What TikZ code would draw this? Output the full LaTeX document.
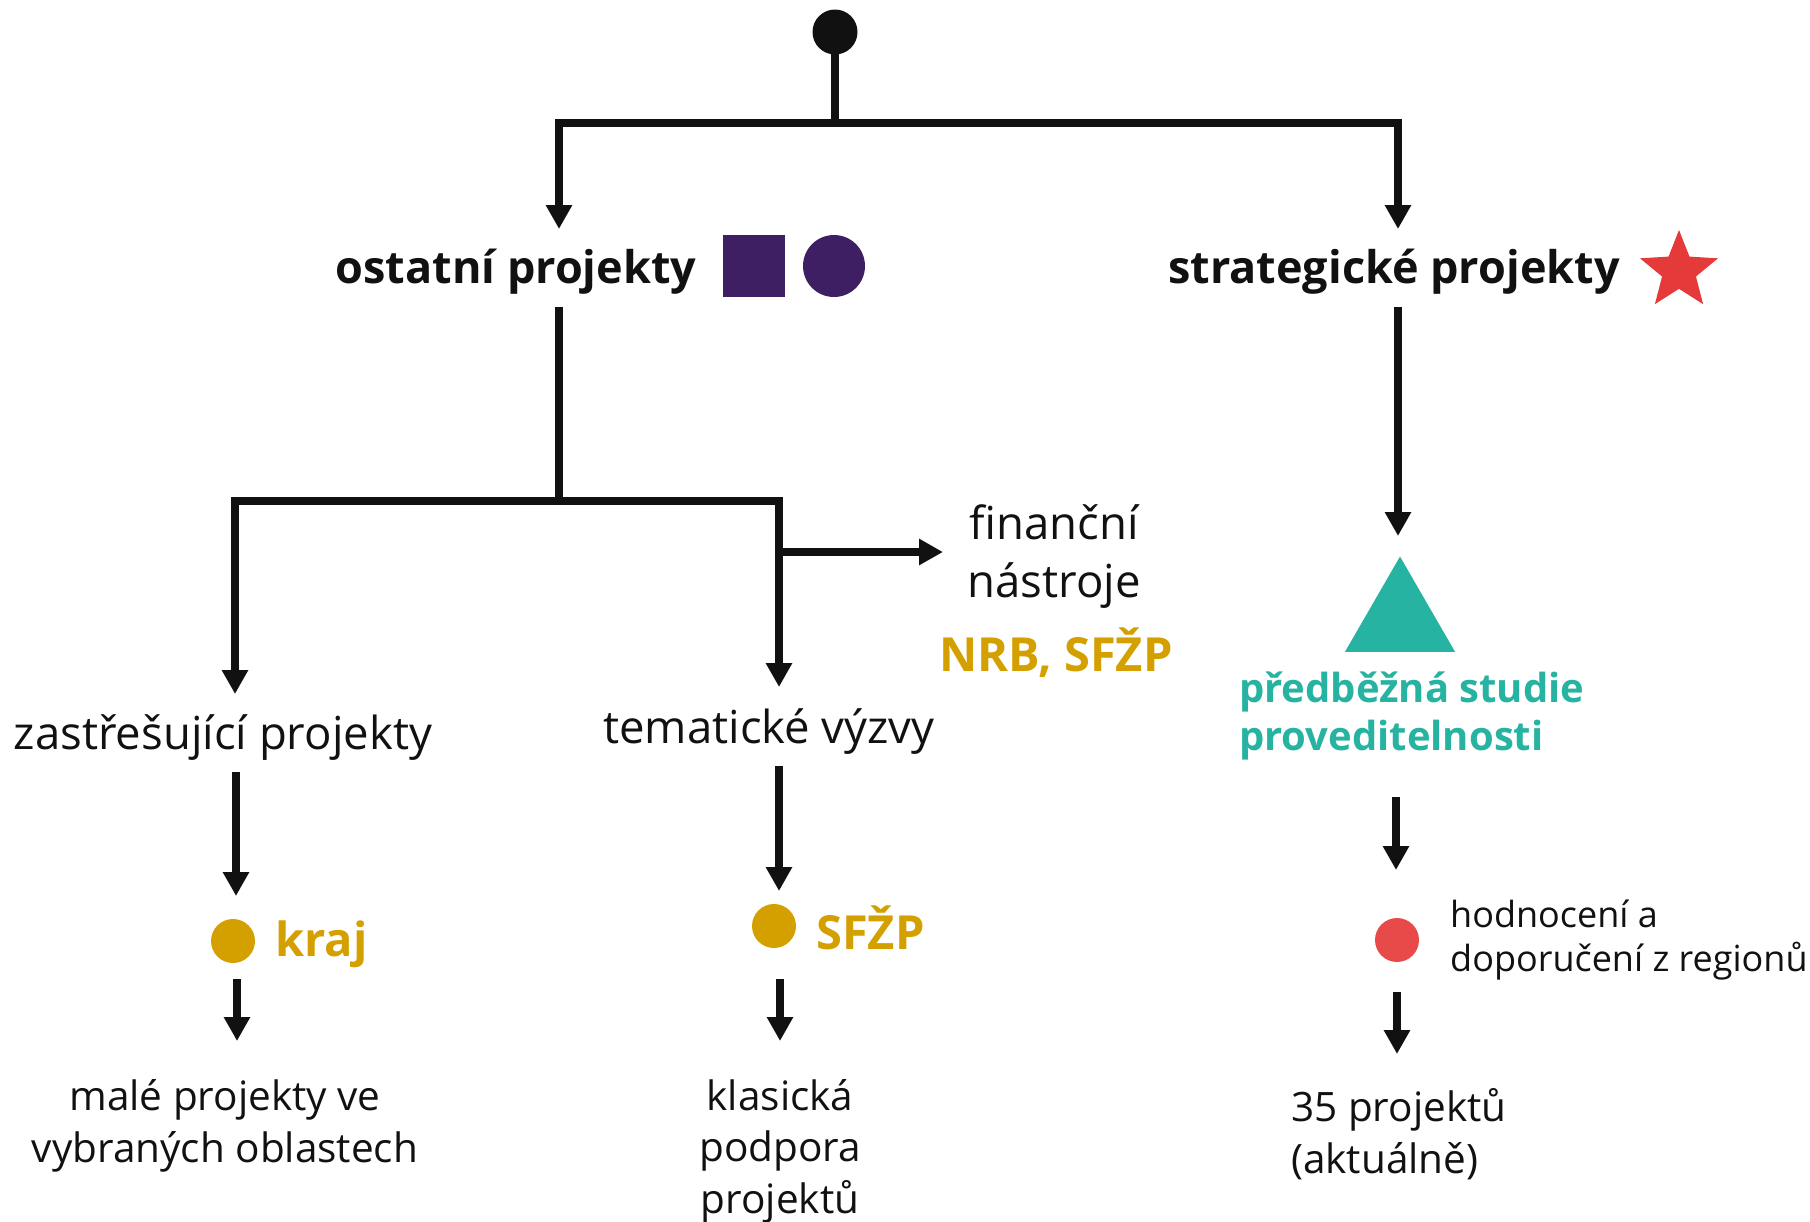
\documentclass[tikz,border=0pt]{standalone}
\usepackage{fontspec}
\setmainfont{Open Sans}
\usetikzlibrary{arrows.meta,shapes.geometric}
\definecolor{ink}{HTML}{111111}
\definecolor{purp}{HTML}{3F1F63}
\definecolor{starred}{HTML}{E53A3A}
\definecolor{dotred}{HTML}{E84A4A}
\definecolor{gold}{HTML}{D4A000}
\definecolor{teal}{HTML}{26B3A1}
\tikzset{
  conn/.style={draw=ink, line width=8pt},
  arr/.style={conn, -{Triangle[length=24pt,width=25pt]}},
  head/.style={inner sep=0pt, text=ink, font=\fontsize{45}{52}\selectfont\bfseries},
  body/.style={inner sep=0pt, text=ink, align=center, font=\fontsize{45.5}{58}\selectfont},
  bottom/.style={inner sep=0pt, text=ink, align=center, font=\fontsize{40.5}{51.5}\selectfont},
  small/.style={inner sep=0pt, text=ink, align=left, font=\fontsize{36}{44}\selectfont},
  goldtxt/.style={inner sep=0pt, text=gold, font=\fontsize{47}{52}\selectfont\bfseries},
  tealtxt/.style={inner sep=0pt, text=teal, align=left, font=\fontsize{40}{48}\selectfont\bfseries},
  dot/.style={circle, inner sep=0pt, minimum size=#1},
}
\begin{document}
\begin{tikzpicture}[x=1pt,y=-1pt]
\useasboundingbox (0,0) rectangle (1810,1221);

% top
\node[dot=45, fill=ink] (top) at (835,32) {};
\coordinate (j1) at (835,123);
\coordinate (jl) at (559,123);
\coordinate (jr) at (1398,123);
\coordinate (tl) at (559,229);
\coordinate (tr) at (1398,229);
\draw[conn] (top.center) -- (j1);
\draw[conn] ([xshift=-4pt]jl) -- ([xshift=4pt]jr);
\draw[arr] (jl) -- (tl);
\draw[arr] (jr) -- (tr);

% headings
\node[head] (ost) at (516,272) {ostatní projekty};
\node[fill=purp, inner sep=0pt, minimum size=62] (sq) at (754,266) {};
\node[dot=62, fill=purp] (pc) at (834,266) {};
\node[head] (str) at (1394,272) {strategické projekty};
\node[star, star points=5, star point ratio=2.3, fill=starred, inner sep=0pt, minimum size=82] (st) at (1679,271) {};

% left subtree
\coordinate (ls) at (559,307);
\coordinate (lj) at (559,501);
\coordinate (lb) at (235,501);
\coordinate (mb) at (779,501);
\coordinate (lt) at (235,694);
\coordinate (mt) at (779,687);
\coordinate (fj) at (779,552);
\coordinate (ft) at (943,552);
\draw[conn] (ls) -- (lj);
\draw[conn] ([xshift=-4pt]lb) -- ([xshift=4pt]mb);
\draw[arr] (lb) -- (lt);
\draw[arr] (mb) -- (mt);
\draw[arr] (fj) -- (ft);

\node[body] (fin) at (1054,557) {finanční\\nástroje};
\node[goldtxt] (nrb) at (1056,653) {NRB, SFŽP};

\node[body] (zas) at (223,738) {zastřešující projekty};
\node[body] (tem) at (769,732) {tematické výzvy};

\draw[arr] (236,772) coordinate (za0) -- (236,896) coordinate (za1);
\draw[arr] (779,766) coordinate (te0) -- (779,891) coordinate (te1);

\node[dot=44, fill=gold] (gd1) at (233,941) {};
\node[goldtxt, anchor=west] (kraj) at (275,944) {kraj};
\node[dot=44, fill=gold] (gd2) at (774,926) {};
\node[goldtxt, anchor=west] (sfzp) at (816,928) {SFŽP};

\draw[arr] (237,979) coordinate (k0) -- (237,1041) coordinate (k1);
\draw[arr] (780,979) coordinate (s0) -- (780,1041) coordinate (s1);

\node[bottom] (male) at (225,1126) {malé projekty ve\\vybraných oblastech};
\node[bottom] (klas) at (780,1151) {klasická\\podpora\\projektů};

% right subtree
\coordinate (rs) at (1398,307);
\coordinate (rt) at (1398,536);
\draw[arr] (rs) -- (rt);
\node[regular polygon, regular polygon sides=3, fill=teal, inner sep=0pt, minimum size=127] (tri) at (1400,620) {};
\node[tealtxt, anchor=west] (pred) at (1239,716) {předběžná studie\\proveditelnosti};

\draw[arr] (1396,797) coordinate (p0) -- (1396,870) coordinate (p1);
\node[dot=44, fill=dotred] (rd) at (1397,940) {};
\node[small, anchor=west] (hod) at (1450,940) {hodnocení a\\doporučení z regionů};
\draw[arr] (1397,992) coordinate (h0) -- (1397,1054) coordinate (h1);
\node[bottom, align=left, anchor=west] (p35) at (1291,1134) {35 projektů\\(aktuálně)};
\end{tikzpicture}
\end{document}
